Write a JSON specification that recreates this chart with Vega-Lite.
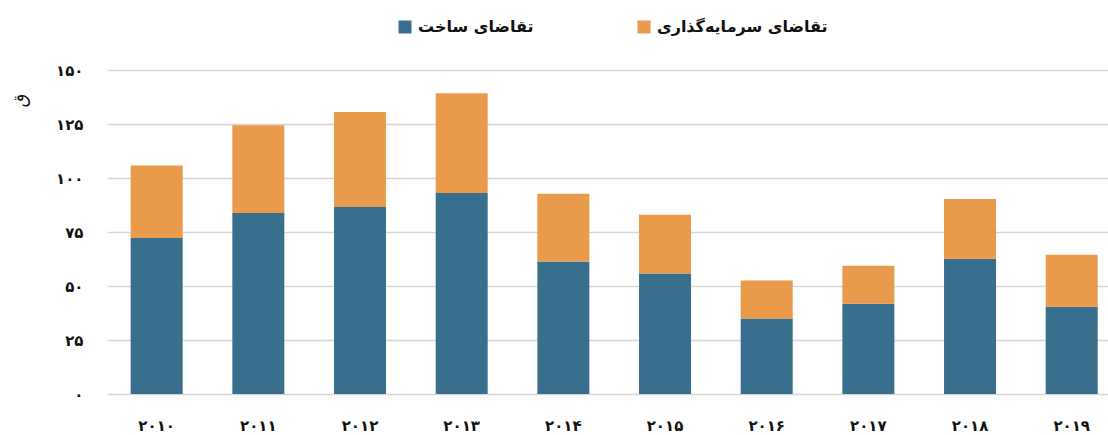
{
  "$schema": "https://vega.github.io/schema/vega-lite/v6.json",
  "width": 1001,
  "height": 324,
  "autosize": {"type": "none"},
  "padding": {"left": 107, "top": 70, "right": 0, "bottom": 41},
  "background": "white",
  "config": {
    "view": {"stroke": null},
    "font": "DejaVu Sans"
  },
  "data": {
    "values": [
      {"year": "۲۰۱۰", "type": "تقاضای ساخت", "value": 72.2},
      {"year": "۲۰۱۰", "type": "تقاضای سرمایه‌گذاری", "value": 33.6},
      {"year": "۲۰۱۱", "type": "تقاضای ساخت", "value": 83.8},
      {"year": "۲۰۱۱", "type": "تقاضای سرمایه‌گذاری", "value": 40.6},
      {"year": "۲۰۱۲", "type": "تقاضای ساخت", "value": 86.6},
      {"year": "۲۰۱۲", "type": "تقاضای سرمایه‌گذاری", "value": 44.0},
      {"year": "۲۰۱۳", "type": "تقاضای ساخت", "value": 93.1},
      {"year": "۲۰۱۳", "type": "تقاضای سرمایه‌گذاری", "value": 46.1},
      {"year": "۲۰۱۴", "type": "تقاضای ساخت", "value": 61.4},
      {"year": "۲۰۱۴", "type": "تقاضای سرمایه‌گذاری", "value": 31.3},
      {"year": "۲۰۱۵", "type": "تقاضای ساخت", "value": 55.8},
      {"year": "۲۰۱۵", "type": "تقاضای سرمایه‌گذاری", "value": 27.2},
      {"year": "۲۰۱۶", "type": "تقاضای ساخت", "value": 35.0},
      {"year": "۲۰۱۶", "type": "تقاضای سرمایه‌گذاری", "value": 17.5},
      {"year": "۲۰۱۷", "type": "تقاضای ساخت", "value": 41.8},
      {"year": "۲۰۱۷", "type": "تقاضای سرمایه‌گذاری", "value": 17.6},
      {"year": "۲۰۱۸", "type": "تقاضای ساخت", "value": 62.6},
      {"year": "۲۰۱۸", "type": "تقاضای سرمایه‌گذاری", "value": 27.7},
      {"year": "۲۰۱۹", "type": "تقاضای ساخت", "value": 40.4},
      {"year": "۲۰۱۹", "type": "تقاضای سرمایه‌گذاری", "value": 24.1}
    ]
  },
  "mark": {"type": "bar"},
  "encoding": {
    "x": {
      "field": "year",
      "type": "nominal",
      "sort": null,
      "scale": {"paddingInner": 0.4885, "paddingOuter": 0.167, "align": 0.697},
      "axis": {
        "title": null,
        "domain": false,
        "ticks": false,
        "labelAngle": 0,
        "labelFont": "DejaVu Sans",
        "labelFontWeight": "bold",
        "labelFontSize": 15,
        "labelColor": "#111111",
        "labelPadding": 24
      }
    },
    "y": {
      "field": "value",
      "type": "quantitative",
      "stack": "zero",
      "scale": {"domain": [0, 150], "nice": false},
      "axis": {
        "values": [0, 25, 50, 75, 100, 125, 150],
        "title": "ق",
        "titleFont": "DejaVu Sans",
        "titleFontWeight": "normal",
        "titleFontSize": 18,
        "titleColor": "#111111",
        "titleAngle": 270,
        "titleX": -87,
        "titleY": 30,
        "titleAlign": "center",
        "titleBaseline": "middle",
        "domain": false,
        "ticks": false,
        "grid": true,
        "gridColor": "#d6d6d6",
        "gridWidth": 1.5,
        "labelFont": "DejaVu Sans",
        "labelFontWeight": "bold",
        "labelFontSize": 15,
        "labelColor": "#111111",
        "labelPadding": 24,
        "labelExpr": "datum.value == 0 ? '۰' : datum.value == 25 ? '۲۵' : datum.value == 50 ? '۵۰' : datum.value == 75 ? '۷۵' : datum.value == 100 ? '۱۰۰' : datum.value == 125 ? '۱۲۵' : '۱۵۰'"
      }
    },
    "order": {"field": "type", "sort": "ascending"},
    "color": {
      "field": "type",
      "type": "nominal",
      "scale": {
        "domain": ["تقاضای ساخت", "تقاضای سرمایه‌گذاری"],
        "range": ["#386f8c", "#e99a4b"]
      },
      "legend": {
        "title": null,
        "orient": "none",
        "direction": "horizontal",
        "legendX": 290,
        "legendY": -51,
        "symbolType": "square",
        "symbolSize": 169,
        "symbolStrokeWidth": 0,
        "symbolOpacity": 1,
        "labelFont": "DejaVu Sans",
        "labelFontWeight": "bold",
        "labelFontSize": 16,
        "labelColor": "#111111",
        "labelOffset": 5,
        "columnPadding": 102,
        "labelLimit": 400
      }
    }
  }
}
